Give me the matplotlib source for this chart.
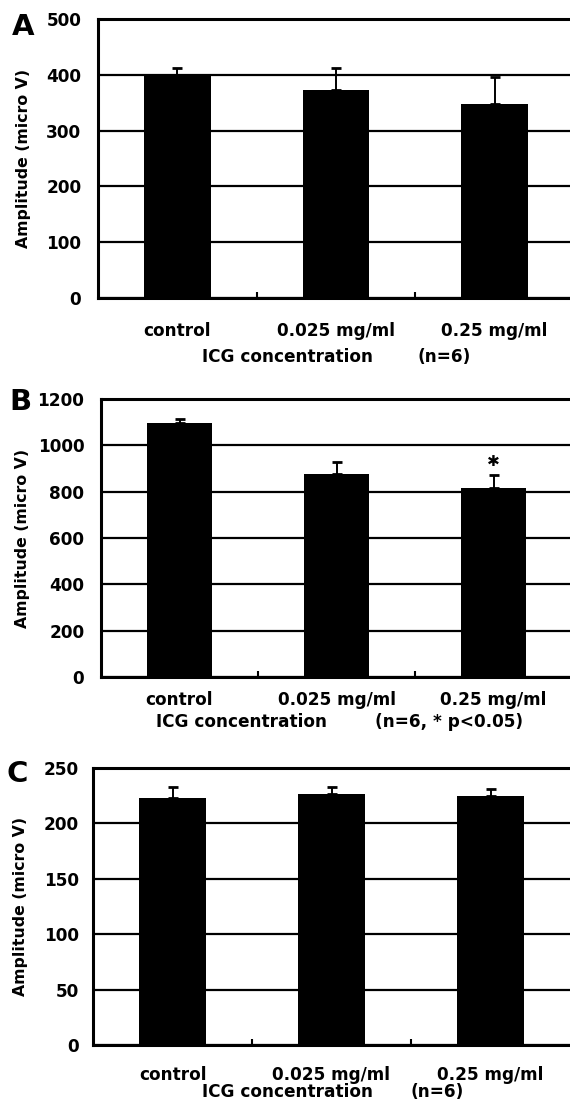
#!/usr/bin/env python3
# -*- coding: utf-8 -*-
import matplotlib
matplotlib.use("Agg")
import matplotlib.pyplot as plt
import numpy as np

# ----------------------- Data -----------------------
groups = ["control", "0.025 mg/ml", "0.25 mg/ml"]

amp_a = [400, 373, 348]
err_a = [12, 39, 48]

amp_b = [1098, 878, 814]
err_b = [15, 50, 58]

amp_c = [223, 226.5, 225]
err_c = [10, 6, 6]

yticks_a = [0, 100, 200, 300, 400, 500]
yticks_b = [0, 200, 400, 600, 800, 1000, 1200]
yticks_c = [0, 50, 100, 150, 200, 250]

notes = ["(n=6)", "(n=6, * p<0.05)", "(n=6)"]
star_group = 2  # significant group in panel B

# ----------------------- Layout (pixels) -----------------------
W, H = 570, 1111
plt.rcParams["font.family"] = ["DejaVu Sans"]
plt.rcParams["font.weight"] = "bold"

fig = plt.figure(figsize=(W / 100, H / 100), dpi=100)

def px_axes(left, top, right, bottom):
    return fig.add_axes([left / W, 1 - bottom / H, (right - left) / W, (bottom - top) / H])

panels = [
    # letter, amps, errs, yticks, (left, top, right, bottom), ytick pad, xtick pad,
    # xlabel y, ICG centre, note centre, letter pos, ylabel right edge
    ("A", amp_a, err_a, yticks_a, (98, 19, 574, 298), 12, 17, 357, 288, 444, (12, 27), 31),
    ("B", amp_b, err_b, yticks_b, (101, 399, 572, 677), 12, 10, 722, 242, 449, (9, 402), 30),
    ("C", amp_c, err_c, yticks_c, (93, 768, 570, 1045), 10, 15, 1092, 288, 437, (7, 774), 28),
]

x = np.arange(len(groups))
for i, (letter, amps, errs, yt, box, ypad, xpad, xly, icg_x, note_x, lpos, ylx) in enumerate(panels):
    ax = px_axes(*box)
    ax.bar(x, amps, width=0.42, color="black", zorder=3)
    ax.errorbar(x, amps, yerr=[np.zeros(len(errs)), errs], fmt="none",
                ecolor="black", elinewidth=1.4, capsize=3.3, capthick=2, zorder=4)
    ax.set_xlim(-0.5, 2.5)
    ax.set_ylim(yt[0], yt[-1])
    ax.set_yticks(yt)
    ax.yaxis.grid(True, color="black", lw=1.6, zorder=0)
    ax.set_axisbelow(True)
    ax.set_xticks(x)
    ax.set_xticklabels(groups)
    ax.set_xticks([0.5, 1.5], minor=True)
    ax.tick_params(axis="x", which="major", length=0, pad=xpad, labelsize=12.2)
    ax.tick_params(axis="x", which="minor", direction="in", length=4, width=1.5)
    ax.tick_params(axis="y", length=0, pad=ypad, labelsize=12.2)
    for s in ["left", "bottom", "top"]:
        ax.spines[s].set_linewidth(2.2)
    ax.spines["right"].set_visible(False)
    ax.set_ylabel("Amplitude (micro V)", fontsize=11.3, fontweight="bold")
    ax.yaxis.set_label_coords((ylx - box[0]) / (box[2] - box[0]), 0.5)

    if letter == "B":
        ax.text(star_group, amps[star_group] + errs[star_group] + 28, "\u2731",
                ha="center", va="bottom", fontsize=11, zorder=5)

    fig.text(icg_x / W, 1 - xly / H, "ICG concentration", ha="center", va="center",
             fontsize=12.2, fontweight="bold")
    fig.text(note_x / W, 1 - xly / H, notes[i], ha="center", va="center",
             fontsize=12.2, fontweight="bold")
    fig.text(lpos[0] / W, 1 - lpos[1] / H, letter, ha="left", va="center",
             fontsize=21, fontweight="heavy")

fig.savefig("out.png", dpi=100)
